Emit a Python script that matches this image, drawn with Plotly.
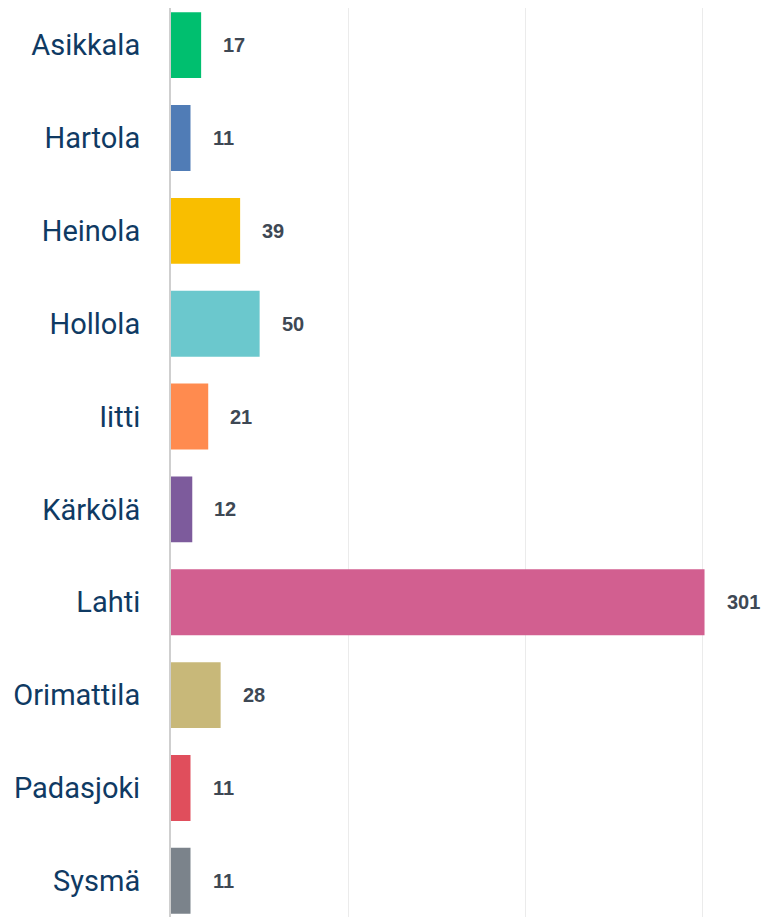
import plotly.graph_objects as go

categories = ["Asikkala", "Hartola", "Heinola", "Hollola", "Iitti", "Kärkölä",
              "Lahti", "Orimattila", "Padasjoki", "Sysmä"]
values = [17, 11, 39, 50, 21, 12, 301, 28, 11, 11]
colors = ["#00bf6f", "#507cb6", "#f9be00", "#6bc8cd", "#ff8b4f", "#7d5b9c",
          "#d25f90", "#c8b879", "#e04e5c", "#7b838b"]

fig = go.Figure()
fig.add_trace(go.Bar(
    x=values, y=categories, orientation="h",
    marker=dict(color=colors, line=dict(width=0)),
    width=0.71, hoverinfo="skip",
))

for c, v in zip(categories, values):
    fig.add_annotation(x=v, y=c, text="<b>%d</b>" % v, showarrow=False,
                       xanchor="left", xshift=20, yshift=0,
                       font=dict(family="Liberation Sans", size=20, color="#3e4854"))

fig.update_layout(
    width=763, height=909,
    margin=dict(l=163, r=0, t=0, b=0),
    plot_bgcolor="white", paper_bgcolor="white",
    showlegend=False,
)
fig.update_xaxes(range=[0, 338.5], showgrid=True, gridcolor="#ebebeb", gridwidth=1,
                 tickvals=[100, 200, 300], showticklabels=False, zeroline=False,
                 showline=False, automargin=False)
fig.update_yaxes(type="category", categoryorder="array", categoryarray=categories,
                 range=[9.39, -0.4], showgrid=False, zeroline=False,
                 showline=True, linecolor="#cfcfcf", linewidth=2,
                 ticks="", ticklabelstandoff=23, automargin=False,
                 tickfont=dict(family="Roboto", size=29, color="#0f3a63"))

fig.write_html("out.html")
